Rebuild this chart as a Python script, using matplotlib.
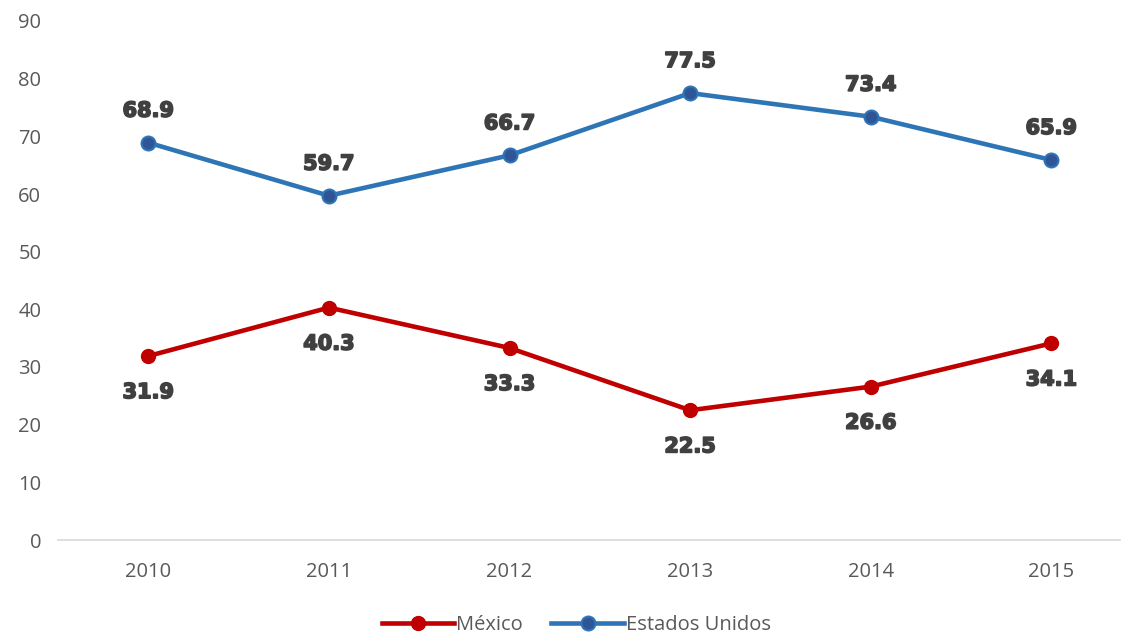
import matplotlib
matplotlib.use("Agg")
import matplotlib.pyplot as plt
import matplotlib.patheffects as pe

years = ["2010", "2011", "2012", "2013", "2014", "2015"]
mexico = [31.9, 40.3, 33.3, 22.5, 26.6, 34.1]
usa = [68.9, 59.7, 66.7, 77.5, 73.4, 65.9]

plt.rcParams['font.family'] = ['Open Sans', 'DejaVu Sans']

fig = plt.figure(figsize=(11.3, 6.34), dpi=100)
ax = fig.add_axes([58 / 1130, 94 / 634, 1062 / 1130, 519 / 634])

x = list(range(len(years)))
ax.plot(x, mexico, color="#C00000", linewidth=3.3, marker="o", markersize=10,
        markerfacecolor="#C00000", markeredgecolor="#C00000", label="México", zorder=3)
ax.plot(x, usa, color="#2E75B6", linewidth=3.3, marker="o", markersize=10,
        markerfacecolor="#2F5597", markeredgecolor="#2E75B6", markeredgewidth=1.5,
        label="Estados Unidos", zorder=3)

# data labels
lbl_style = dict(ha="center", va="center", fontsize=15, fontweight="bold",
                 color="#404040", family="DejaVu Sans",
                 path_effects=[pe.withStroke(linewidth=1.2, foreground="#404040")])
for xi, v in zip(x, usa):
    ax.annotate(f"{v:.1f}", (xi, v), xytext=(0, 23), textcoords="offset points", **lbl_style)
for xi, v in zip(x, mexico):
    ax.annotate(f"{v:.1f}", (xi, v), xytext=(0, -26), textcoords="offset points", **lbl_style)

ax.set_xlim(-0.5, 5.38)
ax.set_ylim(0, 90)
ax.set_yticks(range(0, 91, 10))
ax.set_xticks(x)
ax.set_xticklabels(years)
ax.tick_params(axis="both", length=0, labelsize=14.5, labelcolor="#595959")
ax.tick_params(axis="y", pad=12)
ax.tick_params(axis="x", pad=16)

for s in ["top", "right", "left"]:
    ax.spines[s].set_visible(False)
ax.spines["bottom"].set_color("#D9D9D9")
ax.spines["bottom"].set_linewidth(1.2)

leg = fig.legend(loc="lower center", bbox_to_anchor=(0.51, -0.03), ncol=2, frameon=False,
                 fontsize=14.5, handlelength=3.6, handletextpad=0.1, columnspacing=1.4)
for t in leg.get_texts():
    t.set_color("#595959")

fig.savefig("out.png", dpi=100)
